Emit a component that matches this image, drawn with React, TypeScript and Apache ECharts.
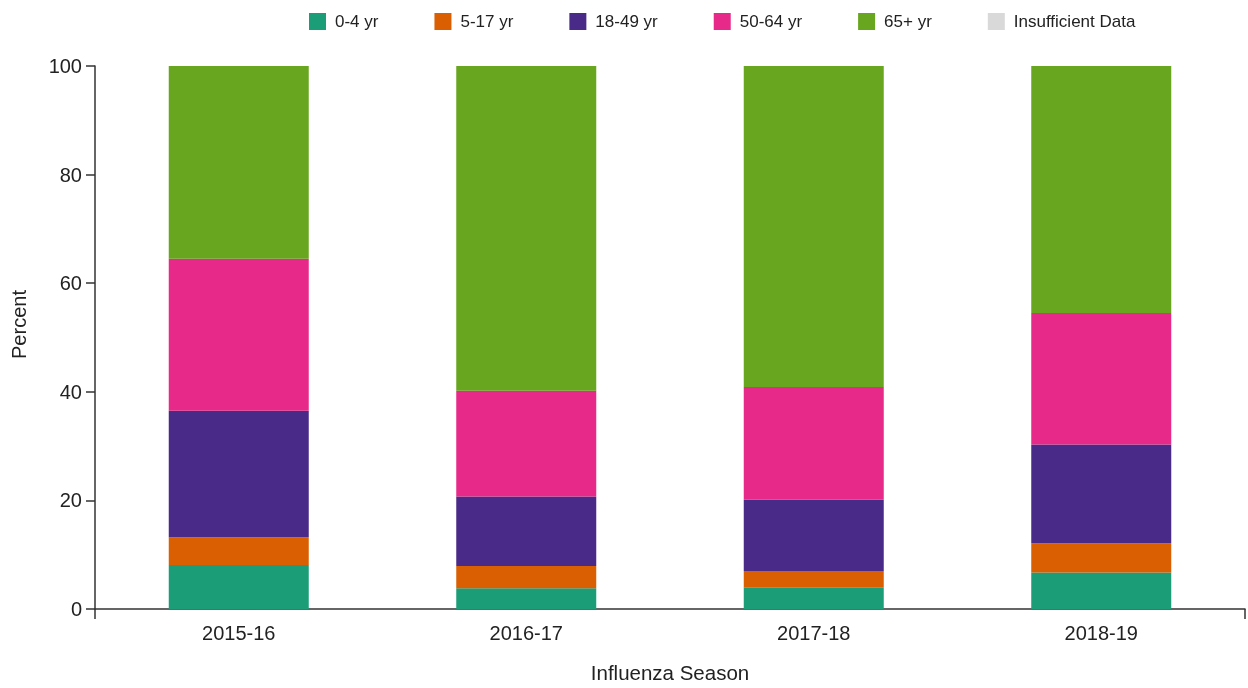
import React, { useEffect, useRef } from "react";
import * as echarts from "echarts";

const seasons = ["2015-16", "2016-17", "2017-18", "2018-19"];
const age0to4 = [8.1, 3.8, 3.9, 6.7];
const age5to17 = [5.1, 4.1, 3.1, 5.4];
const age18to49 = [23.3, 12.8, 13.1, 18.2];
const age50to64 = [28.0, 19.5, 20.8, 24.2];
const age65plus = [35.5, 59.8, 59.1, 45.5];
const insufficient: (number | null)[] = [null, null, null, null];

const seriesNames = ["0-4 yr", "5-17 yr", "18-49 yr", "50-64 yr", "65+ yr", "Insufficient Data"];
const seriesColors = ["#1b9e77", "#d95f02", "#4a2a88", "#e7298a", "#69a61f", "#d9d9d9"];
const seriesData = [age0to4, age5to17, age18to49, age50to64, age65plus, insufficient];

const FONT = "'Liberation Sans', Arial, sans-serif";
const TEXT = "#222";

export default function App() {
  const ref = useRef<HTMLDivElement>(null);
  useEffect(() => {
    if (!ref.current) return;
    const chart = echarts.init(ref.current, null, { renderer: "svg" });
    chart.setOption({
      animation: false,
      textStyle: { fontFamily: FONT },
      legend: {
        left: 304,
        top: 8,
        itemWidth: 17,
        itemHeight: 17,
        itemGap: 56,
        icon: "rect",
        selectedMode: false,
        textStyle: { fontSize: 17, color: TEXT, fontFamily: FONT, padding: [0, 0, 0, 4] },
        data: seriesNames,
      },
      grid: { left: 95, width: 1150, top: 66, height: 550, containLabel: false },
      xAxis: [
        {
          type: "category",
          data: seasons,
          name: "Influenza Season",
          nameLocation: "middle",
          nameGap: 53,
          nameTextStyle: { fontSize: 20.5, color: TEXT, fontFamily: FONT },
          axisLine: { lineStyle: { color: "#333", width: 1.5 } },
          axisTick: { alignWithLabel: true, length: 9, lineStyle: { color: "#333", width: 1.5 } },
          axisLabel: { fontSize: 20, color: TEXT, margin: 14, fontFamily: FONT },
        },
        {
          type: "value",
          min: 0,
          max: 4,
          interval: 4,
          position: "bottom",
          axisLine: { show: false },
          axisTick: { show: true, length: 10, lineStyle: { color: "#333", width: 1.5 } },
          axisLabel: { show: false },
          splitLine: { show: false },
        },
      ],
      yAxis: {
        type: "value",
        min: 0,
        max: 100,
        interval: 20,
        name: "Percent",
        nameLocation: "middle",
        nameGap: 66,
        nameTextStyle: { fontSize: 20, color: TEXT, fontFamily: FONT, padding: [0, 0, 0, 26] },
        axisLine: { show: true, lineStyle: { color: "#333", width: 1.5 } },
        axisTick: { show: true, length: 9, lineStyle: { color: "#333", width: 1.5 } },
        axisLabel: { fontSize: 20, color: TEXT, margin: 13, fontFamily: FONT },
        splitLine: { show: false },
      },
      series: seriesNames.map((name, i) => ({
        name,
        type: "bar",
        stack: "total",
        xAxisIndex: 0,
        barWidth: 140,
        data: seriesData[i],
        itemStyle: { color: seriesColors[i] },
      })),
    });
    return () => chart.dispose();
  }, []);
  return (
    <div
      ref={ref}
      style={{ position: "fixed", left: 0, top: 0, width: 1248, height: 688 }}
    />
  );
}
